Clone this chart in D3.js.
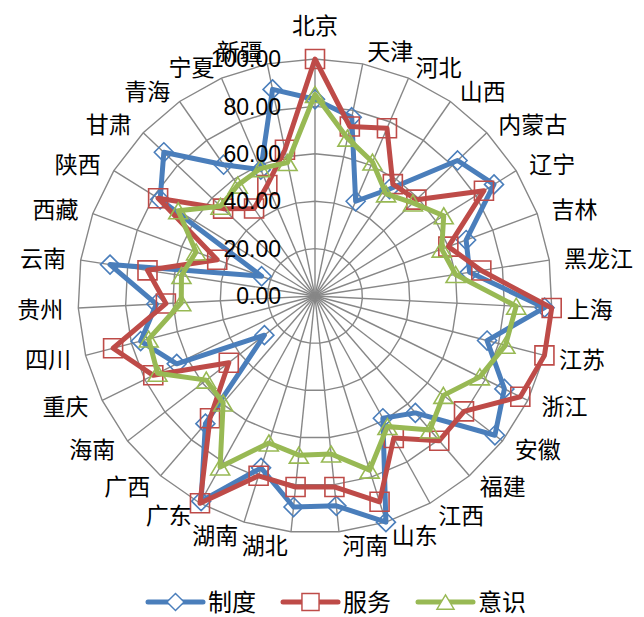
<!DOCTYPE html>
<html><head><meta charset="utf-8">
<script src="https://cdn.jsdelivr.net/npm/d3@7"></script>
<style>html,body{margin:0;padding:0;background:#fff;}svg{display:block;}</style>
</head><body>
<script>
const categories = ["北京","天津","河北","山西","内蒙古","辽宁","吉林","黑龙江","上海","江苏","浙江","安徽","福建","江西","山东","河南","湖北","湖南","广东","广西","海南","重庆","四川","贵州","云南","西藏","陕西","甘肃","青海","宁夏","新疆"];
const zhidu = [83, 77, 43.5, 55, 83, 89, 68, 66, 97, 75, 89, 96, 65, 59, 100, 89, 89.5, 76, 99, 71, 27, 65, 76, 67, 87.5, 24, 77, 88, 67.5, 58, 89];
const fuwu  = [100, 73, 77, 57.5, 59, 84, 60, 71, 100, 100, 96.5, 79.5, 80.5, 68.5, 91, 81, 81, 79.5, 100, 68, 46, 76, 88, 63, 71.5, 44, 78, 53.5, 45, 51, 63];
const yishi = [85, 68, 61.5, 52.5, 57, 64, 57, 60, 85, 83, 77.5, 68.5, 74.5, 63, 77, 67, 67.5, 65, 82.5, 59.5, 58, 74, 72.5, 56.5, 57, 53.5, 68, 55, 57, 58.5, 57.5];
const seriesNames = ["制度","服务","意识"];
const tickValues = [0, 20, 40, 60, 80, 100];

const W = 644, H = 617, cx = 315, cy = 296, R = 237;
const colors = ["#4A7EBB", "#BE4B48", "#98B954"];
const markerPaths = [
  "M0,-9.5L9.5,0L0,9.5L-9.5,0Z",
  "M-9.5,-9.5H9.5V9.5H-9.5Z",
  "M0,-8L9.5,8L-9.5,8Z"
];
const series = [zhidu, fuwu, yishi];

const svg = d3.select("body").append("svg").attr("width", W).attr("height", H);
const g = svg.append("g").attr("transform", `translate(${cx},${cy})`);

const r = d3.scaleLinear().domain([0, 100]).range([0, R]);
const a = d3.scaleLinear().domain([0, categories.length]).range([0, 2 * Math.PI]);

// grid rings
const ring = d3.lineRadial().angle((d, i) => a(i)).radius(d => r(d)).curve(d3.curveLinearClosed);
tickValues.filter(v => v > 0).forEach(v => {
  g.append("path").attr("d", ring(categories.map(() => v)))
    .attr("fill", "none").attr("stroke", "#878787").attr("stroke-width", 1.4);
});
// spokes
categories.forEach((c, i) => {
  g.append("line").attr("x1", 0).attr("y1", 0)
    .attr("x2", r(100) * Math.sin(a(i))).attr("y2", -r(100) * Math.cos(a(i)))
    .attr("stroke", "#878787").attr("stroke-width", 1.4);
});

// series
const line = d3.lineRadial().angle((d, i) => a(i)).radius(d => r(d)).curve(d3.curveLinearClosed);
series.forEach((data, s) => {
  g.append("path").attr("d", line(data)).attr("fill", "none")
    .attr("stroke", colors[s]).attr("stroke-width", 5).attr("stroke-linejoin", "round");
  g.selectAll(null).data(data).enter().append("path")
    .attr("d", markerPaths[s])
    .attr("transform", (d, i) => `translate(${r(d) * Math.sin(a(i))},${-r(d) * Math.cos(a(i))})`)
    .attr("fill", "none").attr("stroke", colors[s]).attr("stroke-width", 1.6);
});

// tick labels
const fmt = d3.format(".2f");
g.selectAll(null).data(tickValues).enter().append("text")
  .attr("x", -34).attr("y", d => -r(d)).attr("dy", "0.36em")
  .attr("text-anchor", "end")
  .attr("font-family", "Liberation Sans, Arial, sans-serif").attr("font-size", 23)
  .attr("fill", "#000").text(d => fmt(d));

// category labels
const rl = r(100) + 13;
g.selectAll(null).data(categories).enter().append("text")
  .each(function (d, i) {
    const s = Math.sin(a(i)), c = Math.cos(a(i));
    const px = rl * s, py = -rl * c;
    const t = d3.select(this);
    if (Math.abs(s) < 0.01) {
      t.attr("x", px).attr("y", py - 20).attr("text-anchor", "middle");
    } else if (s > 0) {
      t.attr("x", px + 2).attr("y", py + 1).attr("text-anchor", "start");
    } else {
      t.attr("x", px - 2).attr("y", py + 1).attr("text-anchor", "end");
    }
  })
  .attr("dy", "0.36em")
  .attr("font-family", "Noto Sans CJK SC, sans-serif").attr("font-size", 23)
  .attr("fill", "#000").text(d => d);

// legend
const legendX = [148, 283, 418], ly = 602;
seriesNames.forEach((name, s) => {
  const lg = svg.append("g").attr("transform", `translate(${legendX[s]},${ly})`);
  lg.append("line").attr("x1", 0).attr("x2", 55).attr("y1", 0).attr("y2", 0)
    .attr("stroke", colors[s]).attr("stroke-width", 5).attr("stroke-linecap", "round");
  lg.append("path").attr("d", markerPaths[s]).attr("transform", "translate(27.5,0) scale(0.9)")
    .attr("fill", "#fff").attr("stroke", colors[s]).attr("stroke-width", 1.6);
  lg.append("text").attr("x", 60).attr("y", 0).attr("dy", "0.36em")
    .attr("font-family", "Noto Sans CJK SC, sans-serif").attr("font-size", 24)
    .attr("fill", "#000").text(name);
});
</script>
</body></html>
